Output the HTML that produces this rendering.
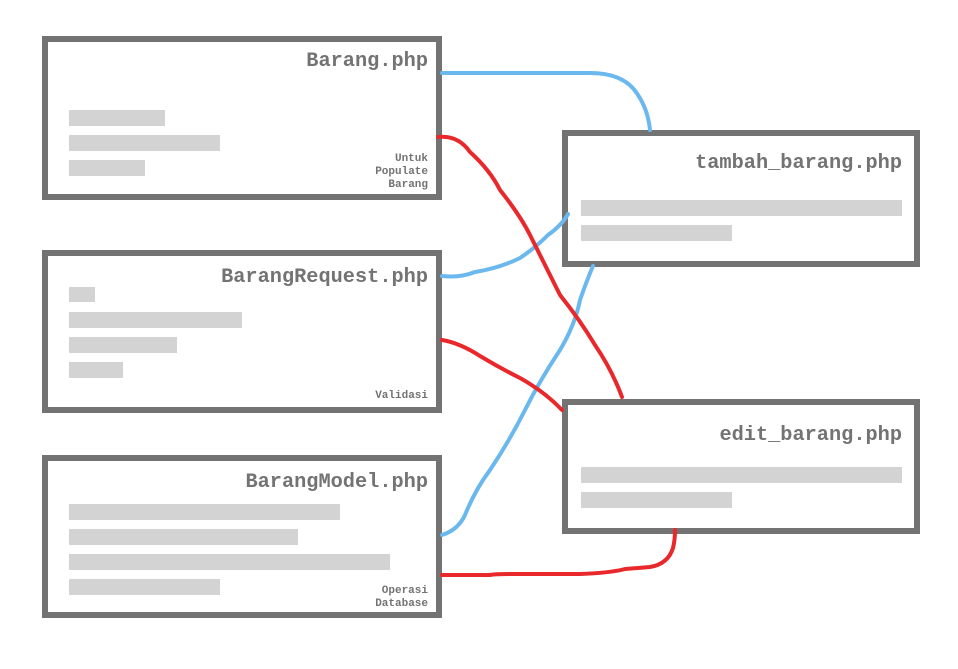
<!DOCTYPE html>
<html><head><style>
body{margin:0;background:#fff;width:958px;height:669px;overflow:hidden}
svg{display:block}
text{font-family:"Liberation Mono","DejaVu Sans Mono",monospace;font-weight:bold;fill:#737373}
.t{font-size:20.3px}
.s{font-size:11px}
.b{fill:#fff;stroke:#737373;stroke-width:6}
.g{fill:#d3d3d3}
.blue{fill:none;stroke:#6bb8ee;stroke-width:4;stroke-linecap:round;stroke-linejoin:round}
.red{fill:none;stroke:#e8282b;stroke-width:4;stroke-linecap:round;stroke-linejoin:round}
</style></head><body>
<svg width="958" height="669" viewBox="0 0 958 669">
<rect class="b" x="45" y="39" width="394" height="158"/>
<text class="t" x="428" y="66" text-anchor="end">Barang.php</text>
<rect class="g" x="69" y="110" width="96" height="16"/>
<rect class="g" x="69" y="135" width="151" height="16"/>
<rect class="g" x="69" y="160" width="76" height="16"/>
<text class="s" x="428" y="161" text-anchor="end">Untuk</text>
<text class="s" x="428" y="174" text-anchor="end">Populate</text>
<text class="s" x="428" y="187" text-anchor="end">Barang</text>

<rect class="b" x="45" y="253" width="394" height="157"/>
<text class="t" x="428" y="282" text-anchor="end">BarangRequest.php</text>
<rect class="g" x="69" y="287" width="26" height="15"/>
<rect class="g" x="69" y="312" width="173" height="16"/>
<rect class="g" x="69" y="337" width="108" height="16"/>
<rect class="g" x="69" y="362" width="54" height="16"/>
<text class="s" x="428" y="398" text-anchor="end">Validasi</text>

<rect class="b" x="45" y="458" width="394" height="157"/>
<text class="t" x="428" y="487" text-anchor="end">BarangModel.php</text>
<rect class="g" x="69" y="504" width="271" height="16"/>
<rect class="g" x="69" y="529" width="229" height="16"/>
<rect class="g" x="69" y="554" width="321" height="16"/>
<rect class="g" x="69" y="579" width="151" height="16"/>
<text class="s" x="428" y="593" text-anchor="end">Operasi</text>
<text class="s" x="428" y="606" text-anchor="end">Database</text>

<rect class="b" x="565" y="133" width="352" height="131"/>
<text class="t" x="902" y="168" text-anchor="end">tambah_barang.php</text>
<rect class="g" x="581" y="200" width="321" height="16"/>
<rect class="g" x="581" y="225" width="151" height="16"/>

<rect class="b" x="565" y="402" width="352" height="129"/>
<text class="t" x="902" y="440" text-anchor="end">edit_barang.php</text>
<rect class="g" x="581" y="467" width="321" height="16"/>
<rect class="g" x="581" y="492" width="151" height="16"/>

<path class="blue" d="M442 73 L590 73 Q625 73 638 95 Q648 110 650 130"/>
<path class="blue" d="M442 276 Q460 278 475 272 Q500 268 520 258 Q535 248 548 235 Q562 225 568 214"/>
<path class="blue" d="M442 535 Q458 530 465 515 Q475 490 490 470 Q510 440 525 410 Q540 380 560 350 Q575 325 580 300 Q587 280 593 266"/>
<path class="red" d="M438 137 Q458 135 470 152 Q490 170 500 190 Q520 215 530 235 Q545 265 560 295 Q580 320 595 345 Q612 370 622 397"/>
<path class="red" d="M442 340 Q460 343 480 356 Q500 368 520 378 Q545 392 562 410"/>
<path class="red" d="M442 575 L490 575 Q495 574 510 574 L580 574 Q610 573 625 569 L650 567 Q668 564 673 548 Q675 540 675 530"/>
</svg>
</body></html>
